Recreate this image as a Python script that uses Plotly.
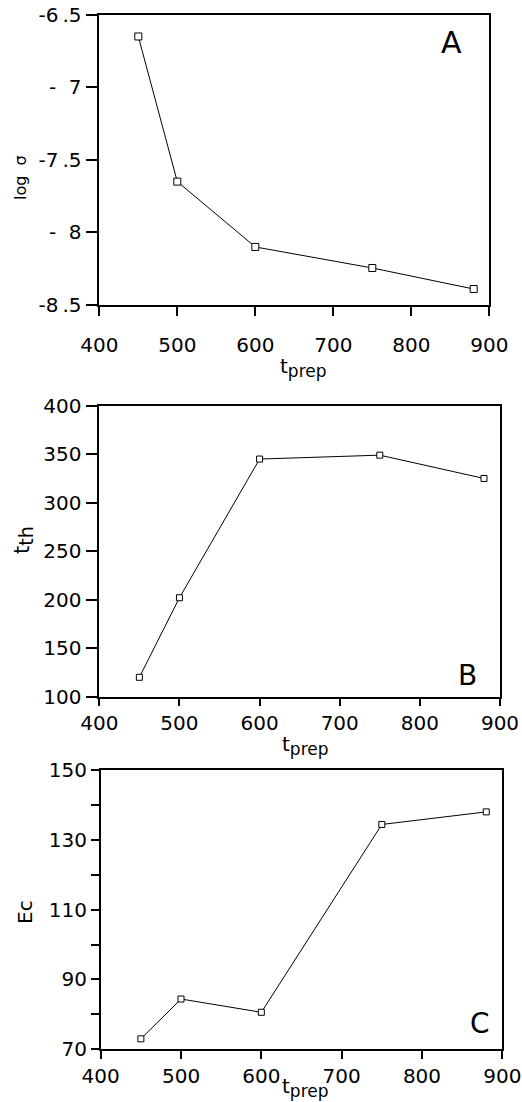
import plotly.graph_objects as go

# ---- data ----
t_prep = [450, 500, 600, 750, 880]
log_sigma = [-6.65, -7.65, -8.10, -8.245, -8.39]
t_th = [120, 202, 345, 349, 325]
Ec = [73, 84.4, 80.6, 134.4, 138]

x_ticks = [400, 500, 600, 700, 800, 900]
a_yticks = [-8.5, -8, -7.5, -7, -6.5]
a_ylabels = ["-8\u2009.5", "-\u00a0\u00a08", "-7\u2009.5", "-\u00a0\u00a07", "-6\u2009.5"]
b_yticks = [100, 150, 200, 250, 300, 350, 400]
c_yticks = [70, 90, 110, 130, 150]
c_minor = [80, 100, 120, 140]

W, H = 522, 1102
FONT = "DejaVu Sans"


def px(x):
    return x / W


def py(y):
    return 1 - y / H


fig = go.Figure()

for i, yv in enumerate([log_sigma, t_th, Ec]):
    msize = [7, 6, 6][i]
    fig.add_trace(go.Scatter(
        x=t_prep, y=yv, mode="lines+markers",
        xaxis="x" if i == 0 else f"x{i+1}",
        yaxis="y" if i == 0 else f"y{i+1}",
        line=dict(color="black", width=1),
        marker=dict(symbol="square", size=msize, color="white",
                    line=dict(color="black", width=1)),
        showlegend=False, cliponaxis=False,
    ))

common_axis = dict(showline=True, linecolor="black", linewidth=1.5, mirror=True,
                   ticks="outside", tickcolor="black", tickwidth=1.5,
                   showgrid=False, zeroline=False, automargin=False,
                   tickfont=dict(family=FONT, size=20, color="black"))

fig.update_layout(
    width=W, height=H, margin=dict(l=0, r=0, t=0, b=0, pad=0, autoexpand=False),
    autosize=False,
    paper_bgcolor="white", plot_bgcolor="white",
    font=dict(family=FONT, color="black"),
    xaxis=dict(domain=[px(99.3), px(489.3)], range=[400, 900], anchor="y",
               tickvals=x_ticks, ticklen=9, ticklabelstandoff=12, **common_axis),
    yaxis=dict(domain=[py(305), py(14.7)], range=[-8.5, -6.5], anchor="x",
               tickvals=a_yticks, ticktext=a_ylabels, ticklen=12, **common_axis),
    xaxis2=dict(domain=[px(99.3), px(500)], range=[400, 900], anchor="y2",
                tickvals=x_ticks, ticklen=8, **common_axis),
    yaxis2=dict(domain=[py(696.7), py(405.7)], range=[100, 400], anchor="x2",
                tickvals=b_yticks, ticklen=12, **common_axis),
    xaxis3=dict(domain=[px(100.7), px(502.3)], range=[400, 900], anchor="y3",
                tickvals=x_ticks, ticklen=8, **common_axis),
    yaxis3=dict(domain=[py(1049.3), py(770)], range=[70, 150], anchor="x3",
                tickvals=c_yticks, ticklen=8,
                minor=dict(tickvals=c_minor, ticks="outside", ticklen=8,
                           tickwidth=1.5, tickcolor="black", showgrid=False),
                **common_axis),
)

ann = []
# panel letters
ann.append(dict(x=852, y=-6.69, xref="x", yref="y", text="A", showarrow=False,
                font=dict(family=FONT, size=30, color="black")))
ann.append(dict(x=859, y=122, xref="x2", yref="y2", text="B", showarrow=False,
                font=dict(family=FONT, size=28, color="black")))
ann.append(dict(x=872, y=77.5, xref="x3", yref="y3", text="C", showarrow=False,
                font=dict(family=FONT, size=28, color="black")))

sub_prep = 't<sub><span style="font-size:17px">prep</span></sub>'
# x titles
for (cx, cy) in [(303, 368), (305, 745), (305, 1087)]:
    ann.append(dict(x=px(cx), y=py(cy), xref="paper", yref="paper",
                    text=sub_prep, showarrow=False,
                    xanchor="center", yanchor="middle",
                    font=dict(family=FONT, size=20, color="black")))

# y titles
ann.append(dict(x=px(20), y=py(178), xref="paper", yref="paper", text="log  σ",
                textangle=-90, showarrow=False, xanchor="center", yanchor="middle",
                font=dict(family=FONT, size=16, color="black")))
ann.append(dict(x=px(23), y=py(540), xref="paper", yref="paper",
                text='t<sub><span style="font-size:19px">th</span></sub>',
                textangle=-90, showarrow=False, xanchor="center", yanchor="middle",
                font=dict(family=FONT, size=21, color="black")))
ann.append(dict(x=px(25), y=py(912), xref="paper", yref="paper", text="Ec",
                textangle=-90, showarrow=False, xanchor="center", yanchor="middle",
                font=dict(family=FONT, size=20, color="black")))

fig.update_layout(annotations=ann)

fig.write_html("out.html")
